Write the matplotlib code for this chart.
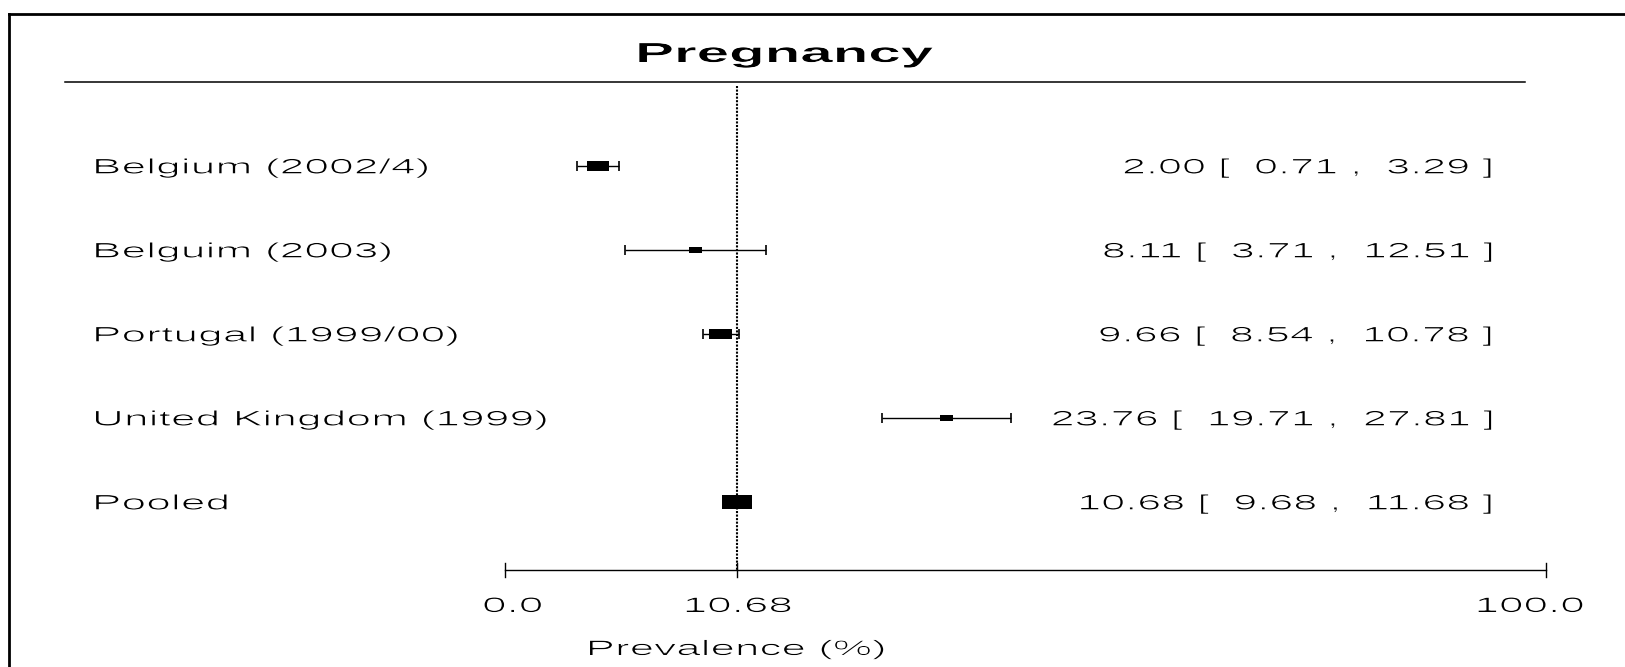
import matplotlib
matplotlib.use('Agg')
import matplotlib.pyplot as plt
from matplotlib import patheffects
from matplotlib.transforms import Affine2D, TransformedPath
from matplotlib.path import Path
from matplotlib.lines import Line2D

# data
title = 'Pregnancy'
studies = ['Belgium (2002/4)', 'Belguim (2003)', 'Portugal (1999/00)',
           'United Kingdom (1999)', 'Pooled']
est = [2.00, 8.11, 9.66, 23.76, 10.68]
lo = [0.71, 3.71, 8.54, 19.71, 9.68]
hi = [3.29, 12.51, 10.78, 27.81, 11.68]
tick_labels = ['0.0', '10.68', '100.0']
xlabel = 'Prevalence (%)'

# style / layout (pixels of the 1625x667 picture)
box_px = [10, 6, 11, 6, 14]       # box heights (weights)
X0, XS = 566.0, 16.01             # px of value 0, px per unit
Y0, YS = 166.0, 84.0              # px of first row, px per row
W, H = 1625, 667
plt.rcParams['font.family'] = ['Liberation Sans', 'DejaVu Sans']


def dx(px):
    return (px - X0) / XS


def dy(px):
    return (px - Y0) / YS


class Widen(patheffects.AbstractPathEffect):
    # the reference text is drawn about twice as wide, with thin strokes
    def __init__(self, text, sx, thin):
        super().__init__()
        self.text = text
        self.sx = sx
        self.thin = thin

    def draw_path(self, renderer, gc, tpath, affine, rgbFace=None):
        xa = self.text.get_transform().transform(self.text.get_position())[0]
        st = affine + Affine2D().translate(-xa, 0).scale(self.sx, 1).translate(xa, 0)
        gc0 = renderer.new_gc()
        gc0.copy_properties(gc)
        if self.thin:
            # keep only the overlap with a shifted copy -> thinner vertical stems
            gc0.set_clip_path(TransformedPath(tpath, st + Affine2D().translate(self.thin, 0)))
        renderer.draw_path(gc0, tpath, st, rgbFace)
        gc0.restore()


fig = plt.figure(figsize=(W / 100, H / 100), dpi=100)
fig.patch.set_facecolor('white')
ax = fig.add_axes([0, 0, 1, 1])
ax.set_xlim(dx(0), dx(W))
ax.set_ylim(dy(H), dy(0))
ax.axis('off')


def wide_text(x, y, s, sx=2.1, thin=1.6, **kw):
    t = ax.text(x, y, s, **kw)
    t.set_path_effects([Widen(t, sx, thin)])
    return t


# outer frame (only top and left edges visible)
fig.add_artist(Line2D([8.5 / W, 8.5 / W], [-0.01, 1 - 13.5 / H], transform=fig.transFigure,
                      color='black', lw=2.0, solid_capstyle='projecting'))
fig.add_artist(Line2D([8.5 / W, 1.01], [1 - 13.5 / H, 1 - 13.5 / H], transform=fig.transFigure,
                      color='black', lw=2.0, solid_capstyle='projecting'))

# title and rule
wide_text(dx(784), dy(62), title, sx=2.12, thin=0.8, fontsize=19.8, fontweight='bold',
          ha='center', va='baseline')
ax.plot([dx(65), dx(1525)], [dy(82), dy(82)], color='black', lw=1.1)

rows = list(range(len(studies)))
pooled = est[-1]

# reference line at pooled estimate
ax.plot([pooled, pooled], [dy(86), dy(570)], color='black', lw=1.5, dashes=(1.0, 0.7))

# study CIs
n = len(studies) - 1
ax.errorbar(est[:n], rows[:n],
            xerr=[[e - l for e, l in zip(est[:n], lo[:n])],
                  [h - e for e, h in zip(est[:n], hi[:n])]],
            fmt='none', ecolor='black', elinewidth=1.0, capsize=3.8, capthick=1.2, zorder=2)

# boxes (wide rectangles)
rect = Path([(-1, -0.465), (1, -0.465), (1, 0.465), (-1, 0.465), (-1, -0.465)], closed=True)
sizes = [(b * 2.15 * 0.72) ** 2 for b in box_px]
ax.scatter(est, rows, marker=rect, s=sizes, color='black', linewidths=0, zorder=3)

# labels and numbers
for i, name in enumerate(studies):
    wide_text(dx(91), i + 7.5 / YS, name, sx=2.12, fontsize=15.1, ha='left', va='baseline')
    s = '{:.2f} [  {:.2f} ,  {:.2f} ]'.format(est[i], lo[i], hi[i])
    wide_text(dx(1494), i + 7.5 / YS, s, sx=2.06, fontsize=15.1, ha='right', va='baseline')

# x axis
axis_lo, axis_hi = dx(505), dx(1546)
ya = dy(570)
ax.plot([axis_lo, axis_hi], [ya, ya], color='black', lw=1.0)
for p in [axis_lo, pooled, axis_hi]:
    ax.plot([p, p], [dy(563), dy(577)], color='black', lw=1.0)
for lab, px in zip(tick_labels, [512, 737, 1529]):
    wide_text(dx(px), dy(612), lab, fontsize=15.1, ha='center', va='baseline')
wide_text(dx(735.5), dy(655), xlabel, fontsize=15.1, ha='center', va='baseline')

fig.savefig('out.png', dpi=100, facecolor='white')
